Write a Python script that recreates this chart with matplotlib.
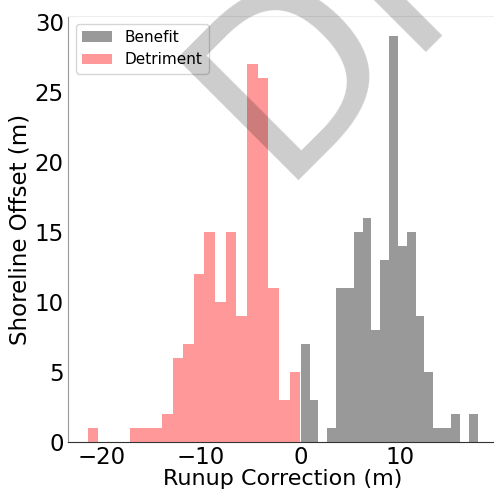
import numpy as np
import matplotlib
matplotlib.use('Agg')
import matplotlib.pyplot as plt

# histogram counts (20 bins each)
detriment_counts = [1, 0, 0, 0, 1, 1, 1, 2, 6, 7, 12, 15, 10, 15, 9, 27, 26, 11, 3, 5]
detriment_range = (-21.4, -0.02)
benefit_counts = [7, 3, 0, 1, 11, 11, 15, 16, 8, 13, 29, 14, 15, 9, 5, 1, 1, 2, 0, 2]
benefit_range = (0.03, 17.8)

fig = plt.figure(figsize=(4.94, 4.90), dpi=100)
ax = fig.add_axes([68/494, 48/490, 429/494, 426/490])

def draw(counts, rng, color, label):
    edges = np.linspace(rng[0], rng[1], len(counts) + 1)
    ax.hist(edges[:-1], bins=edges, weights=counts, color=color, alpha=0.4, label=label)

draw(benefit_counts, benefit_range, 'k', 'Benefit')
draw(detriment_counts, detriment_range, 'r', 'Detriment')

ax.set_xlabel('Runup Correction (m)', fontsize=16, labelpad=0)
ax.set_ylabel('Shoreline Offset (m)', fontsize=16.5, labelpad=2)
ax.set_yticks([0, 5, 10, 15, 20, 25, 30])
ax.set_xticks([-20, -10, 0, 10])
ax.tick_params(labelsize=16.5, length=0, pad=3)
ax.spines['left'].set_color('#999999')
ax.spines['bottom'].set_color('#333333')
ax.spines['top'].set_color('#eeeeee')
ax.spines['right'].set_visible(False)
ax.legend(loc='upper left', fontsize=11)

# watermark
fig.text(276/494, 1 - 180/490, 'DRAFT', rotation=45, rotation_mode='anchor',
         ha='left', va='baseline', fontsize=170, color='k', alpha=0.2)

plt.savefig('out.png')
